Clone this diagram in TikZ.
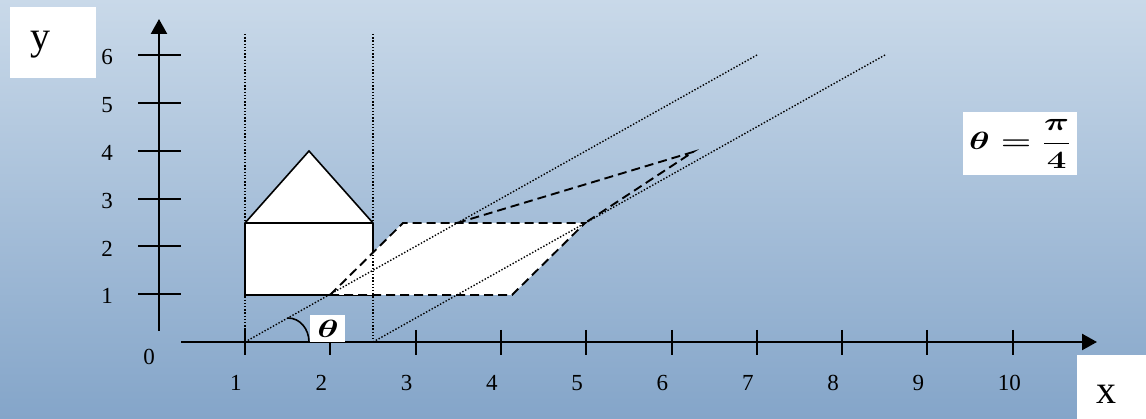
\documentclass[tikz,border=0pt]{standalone}
\usepackage{fontspec}
\setmainfont{Liberation Serif}
\usepackage{amsmath}
\usetikzlibrary{arrows.meta}
\definecolor{bgtop}{RGB}{201,217,233}
\definecolor{bgbot}{RGB}{132,165,201}
\newcommand{\bth}{\scalebox{1.45}[1]{$\boldsymbol{\theta}$}}
\tikzset{
  axis/.style={line width=2.4pt},
  tickline/.style={line width=2pt},
  solidline/.style={line width=1.6pt,line join=miter},
  dashline/.style={line width=1.9pt,dash pattern=on 9pt off 5pt},
  dotline/.style={line width=1.4pt,dash pattern=on 1.4pt off 1.8pt},
  ticklabel/.style={inner sep=0pt,font=\fontsize{23}{26}\selectfont},
  whitebox/.style={fill=white,draw=none},
  axlabel/.style={inner sep=0pt,font=\fontsize{40}{44}\selectfont},
  mathlabel/.style={inner sep=0pt,font=\fontsize{26}{30}\selectfont},
}
\begin{document}
\begin{tikzpicture}[x=1pt,y=-1pt]
\useasboundingbox (0,0) rectangle (1146,419);
\shade[top color=bgtop,bottom color=bgbot] (0,0) rectangle (1146,419);

% key points
\coordinate (O1) at (245,342);
\coordinate (O2) at (373,342);
\coordinate (D1) at (757,55);
\coordinate (D2) at (885,55);
\coordinate (V1) at (245,34);
\coordinate (V2) at (373,34);
\coordinate (H1) at (245,295);
\coordinate (H2) at (373,295);
\coordinate (H3) at (373,223);
\coordinate (H4) at (245,223);
\coordinate (HA) at (309,151);
\coordinate (P1) at (330,295);
\coordinate (P2) at (512,295);
\coordinate (P3) at (585,223);
\coordinate (P4) at (403,223);
\coordinate (R1) at (457,223);
\coordinate (RA) at (693,152);

% house
\fill[white] (H1) -- (H2) -- (H3) -- (HA) -- (H4) -- cycle;
\draw[solidline] (H1) -- (H4) -- (HA) -- (H3) -- (H2) -- cycle;
\draw[solidline] (H4) -- (H3);

% sheared parallelogram fill
\fill[white] (P1) -- (P2) -- (P3) -- (P4) -- cycle;

% dotted guide lines
\draw[dotline] (V1) -- (O1);
\draw[dotline] (V2) -- (O2);
\draw[dotline] (O1) -- (D1);
\draw[dotline] (O2) -- (D2);

% dashed sheared house
\draw[dashline] (P1) -- (P2) -- (P3) -- (P4) -- cycle;
\draw[dashline] (R1) -- (RA) -- (P3);

% axes
\coordinate (XS) at (181,342);
\coordinate (XE) at (1097,342);
\coordinate (YS) at (159,331);
\coordinate (YE) at (159,19);
\draw[axis,-{Triangle[length=15pt,width=16pt]}] (XS) -- (XE);
\draw[axis,-{Triangle[length=15pt,width=16pt]}] (YS) -- (YE);

% x ticks and labels
\foreach \i in {1,...,10} {
  \pgfmathsetmacro{\tx}{245+85.3*(\i-1)}
  \draw[tickline] (\tx,330) -- (\tx,355);
  \node[ticklabel,anchor=west] (xl\i) at (\tx-15,383) {\i};
}
% y ticks and labels
\foreach \j in {1,...,6} {
  \pgfmathsetmacro{\ty}{342-47.8*\j}
  \draw[tickline] (138,\ty) -- (181,\ty);
  \node[ticklabel] (yl\j) at (107,\ty+2) {\j};
}
\node[ticklabel] (zero) at (149,357) {0};

% angle arc
\draw[solidline] (288,318) .. controls (300,318) and (309,329) .. (309,342);

% theta box
\fill[whitebox] (310,315) rectangle (345,342);
\node[mathlabel] (th) at (328,329) {\bth};

% formula box
\fill[whitebox] (963,112) rectangle (1077,175);
\node[mathlabel] (formula) at (1020,144) {\scalebox{1.4}[1]{$\boldsymbol{\theta = \dfrac{\pi}{4}}$}};

% axis label boxes
\fill[whitebox] (10,7) rectangle (96,78);
\node[axlabel] (ylab) at (40,45) {y};
\fill[whitebox] (1077,355) rectangle (1146,419);
\node[axlabel] (xlab) at (1106,394) {x};
\end{tikzpicture}
\end{document}
